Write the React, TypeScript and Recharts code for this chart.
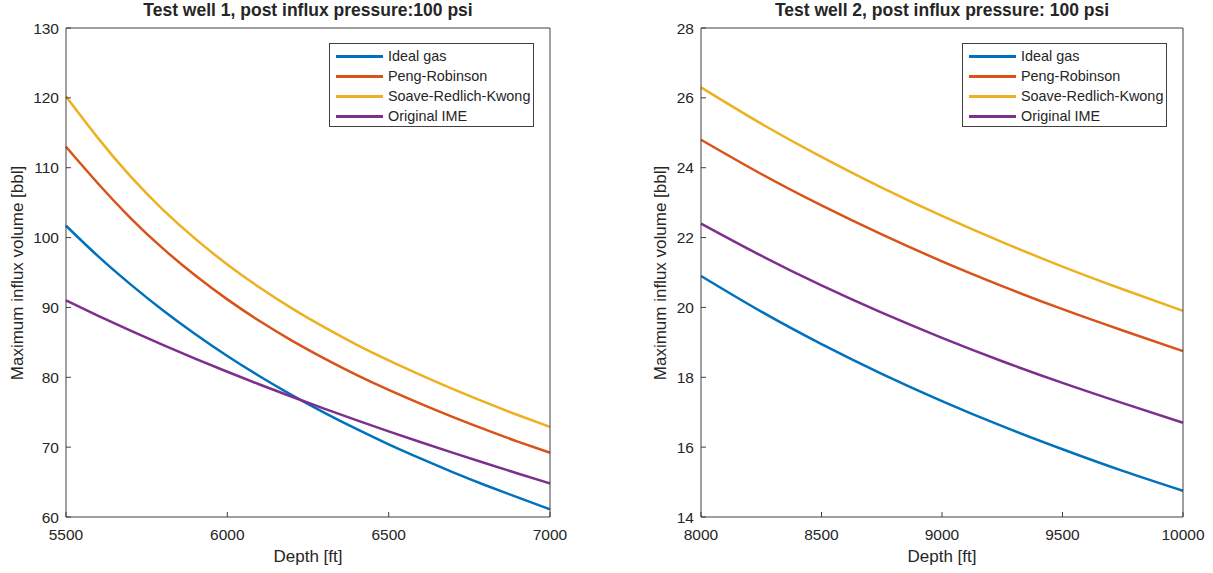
import { LineChart, Line, XAxis, YAxis } from "recharts";

// Test well 1 (depth in ft, volume in bbl)
const depth1 = [5500, 5600, 5700, 5800, 5900, 6000, 6100, 6200, 6300, 6400, 6500, 6600, 6700, 6800, 6900, 7000];
const ideal1 = [101.7, 97.3, 93.3, 89.6, 86.2, 83.05, 80.15, 77.45, 74.95, 72.6, 70.4, 68.35, 66.4, 64.55, 62.8, 61.1];
const peng1 = [113.0, 107.7, 102.8, 98.45, 94.6, 91.15, 88.05, 85.25, 82.7, 80.35, 78.2, 76.2, 74.3, 72.5, 70.8, 69.2];
const srk1 = [120.2, 114.2, 108.75, 104.0, 99.85, 96.15, 92.85, 89.87, 87.17, 84.69, 82.42, 80.31, 78.3, 76.4, 74.6, 72.9];
const ime1 = [91.0, 88.8, 86.68, 84.64, 82.68, 80.79, 78.97, 77.21, 75.51, 73.86, 72.26, 70.7, 69.18, 67.69, 66.23, 64.8];
const xTicks1 = [5500, 6000, 6500, 7000];
const yTicks1 = [60, 70, 80, 90, 100, 110, 120, 130];

// Test well 2
const depth2 = [8000, 8250, 8500, 8750, 9000, 9250, 9500, 9750, 10000];
const ideal2 = [20.9, 19.88, 18.95, 18.1, 17.32, 16.6, 15.94, 15.32, 14.75];
const peng2 = [24.8, 23.82, 22.92, 22.09, 21.32, 20.61, 19.95, 19.34, 18.75];
const srk2 = [26.3, 25.26, 24.31, 23.43, 22.62, 21.87, 21.17, 20.52, 19.9];
const ime2 = [22.4, 21.48, 20.63, 19.85, 19.13, 18.46, 17.84, 17.26, 16.7];
const xTicks2 = [8000, 8500, 9000, 9500, 10000];
const yTicks2 = [14, 16, 18, 20, 22, 24, 26, 28];

const series = [
  { key: "ideal", name: "Ideal gas", color: "#0072BD" },
  { key: "peng", name: "Peng-Robinson", color: "#D95319" },
  { key: "srk", name: "Soave-Redlich-Kwong", color: "#EDB120" },
  { key: "ime", name: "Original IME", color: "#7E2F8E" },
];

const FONT = '"Liberation Sans", Arial, Helvetica, sans-serif';
const INK = "#262626";
const AXIS = "#404040";

const toRows = (depths: number[], ideal: number[], peng: number[], srk: number[], ime: number[]) =>
  depths.map((d, i) => ({ depth: d, ideal: ideal[i], peng: peng[i], srk: srk[i], ime: ime[i] }));

const rows1 = toRows(depth1, ideal1, peng1, srk1, ime1);
const rows2 = toRows(depth2, ideal2, peng2, srk2, ime2);

type PanelProps = {
  left: number;
  width: number;
  rows: any[];
  xTicks: number[];
  yTicks: number[];
  leftW: number;
  rightW: number;
  title: string;
  yLabelX: number;
};

const TOP = 28;
const BOTTOM = 517;
const H = 573;

const Panel = ({ left, width, rows, xTicks, yTicks, leftW, rightW, title, yLabelX }: PanelProps) => {
  const xDomain = [xTicks[0], xTicks[xTicks.length - 1]];
  const yDomain = [yTicks[0], yTicks[yTicks.length - 1]];
  const plotL = leftW;
  const plotR = width - rightW;
  const midX = (plotL + plotR) / 2;
  const axisLine = { stroke: AXIS, strokeWidth: 1 };
  const tickStyle = { fill: INK, fontSize: 15.5, fontFamily: FONT };

  return (
    <div style={{ position: "absolute", left, top: 0, width, height: H, fontFamily: FONT, color: INK }}>
      <LineChart width={width} height={H} data={rows} margin={{ top: 0, right: 0, bottom: 0, left: 0 }}>
        <XAxis xAxisId="b" dataKey="depth" type="number" domain={xDomain} ticks={xTicks} height={H - BOTTOM}
          tickSize={-5} tickMargin={17} axisLine={axisLine} tickLine={axisLine} tick={tickStyle} />
        <XAxis xAxisId="t" orientation="top" type="number" domain={xDomain} ticks={xTicks} height={TOP}
          tickSize={-5} axisLine={axisLine} tickLine={axisLine} tick={false} />
        <YAxis yAxisId="l" type="number" domain={yDomain} ticks={yTicks} width={leftW}
          tickSize={-5} tickMargin={12} axisLine={axisLine} tickLine={axisLine} tick={tickStyle} />
        <YAxis yAxisId="r" orientation="right" type="number" domain={yDomain} ticks={yTicks} width={rightW}
          tickSize={-5} axisLine={axisLine} tickLine={axisLine} tick={false} />
        {series.map((s) => (
          <Line key={s.key} xAxisId="b" yAxisId="l" type="natural" dataKey={s.key} stroke={s.color}
            strokeWidth={2.5} dot={false} isAnimationActive={false} />
        ))}
      </LineChart>

      <div style={{ position: "absolute", left: midX, top: 10, transform: "translate(-50%, -50%)", whiteSpace: "nowrap", fontWeight: "bold", fontSize: 17.5 }}>
        {title}
      </div>
      <div style={{ position: "absolute", left: midX, top: 557, transform: "translate(-50%, -50%)", whiteSpace: "nowrap", fontSize: 17 }}>
        Depth [ft]
      </div>
      <div style={{ position: "absolute", left: yLabelX, top: (TOP + BOTTOM) / 2, transform: "translate(-50%, -50%) rotate(-90deg)", whiteSpace: "nowrap", fontSize: 17 }}>
        Maximum influx volume [bbl]
      </div>

      <div style={{ position: "absolute", left: plotR - 221, top: 43, width: 205, height: 84, boxSizing: "border-box", border: `1px solid ${AXIS}`, background: "#fff" }}>
        {series.map((s, i) => (
          <div key={s.key} style={{ position: "absolute", left: 0, top: 12 + i * 20, height: 0, width: "100%" }}>
            <div style={{ position: "absolute", left: 6, top: -1.5, width: 47, height: 3, background: s.color }} />
            <div style={{ position: "absolute", left: 58, top: 0, transform: "translateY(-50%)", whiteSpace: "nowrap", fontSize: 14.4 }}>
              {s.name}
            </div>
          </div>
        ))}
      </div>
    </div>
  );
};

const App = () => (
  <div style={{ position: "absolute", left: 0, top: 0, width: 1213, height: H, background: "#fff" }}>
    <Panel left={0} width={600} rows={rows1} xTicks={xTicks1} yTicks={yTicks1} leftW={66} rightW={50}
      title="Test well 1, post influx pressure:100 psi" yLabelX={18} />
    <Panel left={620} width={593} rows={rows2} xTicks={xTicks2} yTicks={yTicks2} leftW={81} rightW={30}
      title="Test well 2, post influx pressure: 100 psi" yLabelX={41} />
  </div>
);

export default App;
